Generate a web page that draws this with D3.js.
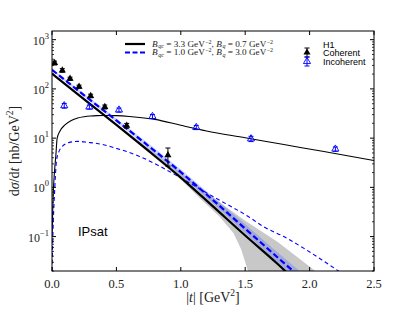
<!DOCTYPE html>
<html><head><meta charset="utf-8">
<script src="https://cdn.jsdelivr.net/npm/d3@7"></script>
<style>body{margin:0;background:#fff}svg{display:block}</style>
</head><body>
<svg id="c" width="415" height="312"></svg>
<script>
// ---- data ----
const xTicks = [0.0, 0.5, 1.0, 1.5, 2.0, 2.5];
const yTickExp = [-1, 0, 1, 2, 3];

// H1 coherent
const cohT = [0.02, 0.08, 0.14, 0.21, 0.30, 0.41, 0.58, 0.90];
const cohV = [336, 238, 161, 111, 72, 43, 17.9, 4.5];
const cohE = [30, 20, 12, 8, 6, 4, 2, 1.8];
// H1 incoherent
const incT = [0.095, 0.29, 0.52, 0.78, 1.12, 1.545, 2.2];
const incV = [45.6, 42.9, 37.3, 27.6, 16.5, 9.7, 6.0];
const incE = [5, 4, 3.5, 2.5, 1.6, 1.2, 0.6];

// model set 1 (black): coherent
const c1T = [0, 0.25, 0.5, 0.75, 1.0, 1.25, 1.5, 1.75, 1.9];
const c1V = [204, 61.5, 18.6, 5.5, 1.58, 0.41, 0.105, 0.028, 0.012];
// gray band around set 1
const gLowT = [0, 0.5, 0.75, 1.0, 1.16, 1.3, 1.41, 1.47, 1.52, 1.56];
const gLowV = [200, 18.0, 5.1, 1.45, 0.56, 0.257, 0.117, 0.054, 0.0204, 0.012];
const gUpT = [0, 0.5, 0.75, 1.0, 1.25, 1.5, 1.75, 2.05, 2.15];
const gUpV = [207, 19.5, 6.2, 2.0, 0.62, 0.21, 0.079, 0.0195, 0.012];
// model set 2 (blue): coherent + band
const c2T = [0, 0.25, 0.5, 0.75, 1.0, 1.25, 1.5, 1.75, 1.95];
const c2V = [245, 74, 22.9, 6.9, 2.04, 0.55, 0.145, 0.038, 0.0132];
const c2Hi = [256.5, 79.3, 25.1, 7.74, 2.34, 0.646, 0.178, 0.0478, 0.0174];
const c2Lo = [234, 69, 20.9, 6.15, 1.78, 0.468, 0.118, 0.0302, 0.0100];
// incoherent models
const i1T = [0, 0.01, 0.02, 0.03, 0.04, 0.06, 0.1, 0.15, 0.2, 0.25, 0.3, 0.35, 0.4, 0.45, 0.5, 0.6, 0.8, 1.0, 1.2, 1.5, 1.8, 2.1, 2.5];
const i1V = [0.1, 0.8, 2.2, 4.5, 10, 13.7, 18.5, 22.8, 25.6, 27.2, 28.2, 28.7, 28.9, 28.9, 28.6, 27.5, 24.0, 18.2, 14.0, 10.2, 7.4, 5.4, 3.5];
const i2T = [0, 0.01, 0.02, 0.035, 0.05, 0.08, 0.13, 0.2, 0.28, 0.35, 0.5, 0.68, 0.84, 1.0, 1.25, 1.54, 1.64, 1.8, 1.95, 2.1, 2.25];
const i2V = [0.02, 0.2, 0.8, 3.5, 5, 6.8, 8.1, 8.6, 8.2, 7.8, 6.2, 4.25, 2.66, 1.55, 0.65, 0.24, 0.16, 0.1, 0.059, 0.033, 0.018];

// ---- layout ----
const L = 52, R = 374, T = 31, B = 271;
const x = d3.scaleLinear().domain([0, 2.5]).range([L, R]);
const y = d3.scaleLog().domain([0.02, 1500]).range([B, T]);
const svg = d3.select("#c");
const blue = "#0000ff";
const serif = "'Liberation Serif', 'DejaVu Serif', serif";
const sans = "'Liberation Sans', Arial, sans-serif";

svg.append("clipPath").attr("id", "clip").append("rect")
  .attr("x", L).attr("y", T).attr("width", R - L).attr("height", B - T);
const g = svg.append("g").attr("clip-path", "url(#clip)");

const zip = (t, v) => t.map((d, i) => [d, v[i]]);
const line = d3.line().x(d => x(d[0])).y(d => y(d[1]));

const grayPoly = zip(gUpT, gUpV).concat(zip(gLowT, gLowV).reverse());
g.append("path").attr("d", line(grayPoly) + "Z").attr("fill", "#c8c8c8").attr("stroke", "none");
const bluePoly = zip(c2T, c2Hi).concat(zip(c2T, c2Lo).reverse());
g.append("path").attr("d", line(bluePoly) + "Z").attr("fill", "rgba(70,90,255,0.28)").attr("stroke", "none");

const curve = d3.line().x(d => x(d[0])).y(d => y(d[1])).curve(d3.curveMonotoneX);
g.append("path").attr("d", curve(zip(i1T, i1V))).attr("fill", "none").attr("stroke", "#000").attr("stroke-width", 1.1);
g.append("path").attr("d", curve(zip(i2T, i2V))).attr("fill", "none").attr("stroke", blue).attr("stroke-width", 1.1).attr("stroke-dasharray", "4,3");
g.append("path").attr("d", curve(zip(c1T, c1V))).attr("fill", "none").attr("stroke", "#000").attr("stroke-width", 2.2);
g.append("path").attr("d", curve(zip(c2T, c2V))).attr("fill", "none").attr("stroke", blue).attr("stroke-width", 2.2).attr("stroke-dasharray", "6,3");

const tri = d3.symbol().type(d3.symbolTriangle).size(22);
function errbars(sel, T_, V_, E_, col) {
  T_.forEach((t, i) => {
    const cx = x(t), y1 = y(V_[i] + E_[i]), y2 = y(V_[i] - E_[i]);
    sel.append("line").attr("x1", cx).attr("x2", cx).attr("y1", y1).attr("y2", y2).attr("stroke", col).attr("stroke-width", 1);
    [y1, y2].forEach(yy => sel.append("line").attr("x1", cx - 2.5).attr("x2", cx + 2.5).attr("y1", yy).attr("y2", yy).attr("stroke", col).attr("stroke-width", 1));
  });
}
errbars(g, incT, incV, incE, blue);
incT.forEach((t, i) => g.append("path").attr("d", tri()).attr("transform", `translate(${x(t)},${y(incV[i])})`)
  .attr("fill", "none").attr("stroke", blue).attr("stroke-width", 0.9));
errbars(g, cohT, cohV, cohE, "#000");
cohT.forEach((t, i) => g.append("path").attr("d", tri()).attr("transform", `translate(${x(t)},${y(cohV[i])})`)
  .attr("fill", "#000"));

svg.append("rect").attr("x", L).attr("y", T).attr("width", R - L).attr("height", B - T)
  .attr("fill", "none").attr("stroke", "#000").attr("stroke-width", 1);

const ax = svg.append("g");
xTicks.forEach(v => {
  const px = x(v);
  ax.append("line").attr("x1", px).attr("x2", px).attr("y1", B).attr("y2", B - 4).attr("stroke", "#000");
  ax.append("line").attr("x1", px).attr("x2", px).attr("y1", T).attr("y2", T + 4).attr("stroke", "#000");
  ax.append("text").attr("x", px).attr("y", B + 17).attr("text-anchor", "middle")
    .attr("font-family", serif).attr("font-size", 12.5).attr("fill", "#222").text(d3.format(".1f")(v));
});
yTickExp.forEach(e => {
  const py = y(Math.pow(10, e));
  ax.append("line").attr("x1", L).attr("x2", L + 4).attr("y1", py).attr("y2", py).attr("stroke", "#000");
  ax.append("line").attr("x1", R).attr("x2", R - 4).attr("y1", py).attr("y2", py).attr("stroke", "#000");
  const tx = ax.append("text").attr("x", 49).attr("y", py + 5).attr("text-anchor", "end")
    .attr("font-family", serif).attr("font-size", 12).attr("fill", "#222");
  tx.append("tspan").text("10");
  tx.append("tspan").attr("dy", -6).attr("font-size", 8.5).text(e < 0 ? "\u2212" + (-e) : String(e));
});
for (let e = -2; e <= 3; e++) {
  for (let m = 2; m <= 9; m++) {
    const v = m * Math.pow(10, e);
    if (v < 0.02 || v > 1500) continue;
    const py = y(v);
    ax.append("line").attr("x1", L).attr("x2", L + 2).attr("y1", py).attr("y2", py).attr("stroke", "#000").attr("stroke-width", 0.8);
    ax.append("line").attr("x1", R).attr("x2", R - 2).attr("y1", py).attr("y2", py).attr("stroke", "#000").attr("stroke-width", 0.8);
  }
}

const xl = svg.append("text").attr("x", 213).attr("y", 302).attr("text-anchor", "middle")
  .attr("font-family", serif).attr("font-size", 14).attr("fill", "#222");
xl.append("tspan").text("|");
xl.append("tspan").attr("font-style", "italic").text("t");
xl.append("tspan").text("|  [GeV");
xl.append("tspan").attr("dy", -6).attr("font-size", 9.5).text("2");
xl.append("tspan").attr("dy", 6).text("]");

const yl = svg.append("text").attr("transform", "translate(19,151) rotate(-90)").attr("text-anchor", "middle")
  .attr("font-family", serif).attr("font-size", 14).attr("fill", "#222");
yl.append("tspan").text("d");
yl.append("tspan").attr("font-style", "italic").text("σ");
yl.append("tspan").text("/d");
yl.append("tspan").attr("font-style", "italic").text("t");
yl.append("tspan").text(" [nb/GeV");
yl.append("tspan").attr("dy", -6).attr("font-size", 9.5).text("2");
yl.append("tspan").attr("dy", 6).text("]");

svg.append("text").attr("x", 78).attr("y", 236).attr("font-family", sans).attr("font-size", 13).text("IPsat");

const legRows = [
  {col: "#000", dash: null, a: "3.3", b: "0.7", yy: 44},
  {col: blue, dash: "5,2.5", a: "1.0", b: "3.0", yy: 52.5}
];
legRows.forEach(r => {
  const l = svg.append("line").attr("x1", 125).attr("x2", 145).attr("y1", r.yy).attr("y2", r.yy)
    .attr("stroke", r.col).attr("stroke-width", 2.2);
  if (r.dash) l.attr("stroke-dasharray", r.dash);
  const t = svg.append("text").attr("x", 152).attr("y", r.yy + 2.8).attr("font-family", serif).attr("font-size", 9.2).attr("fill", "#222");
  t.append("tspan").attr("font-style", "italic").text("B");
  t.append("tspan").attr("dx", 0.6).attr("dy", 1.5).attr("font-size", 6).attr("font-style", "italic").text("qc");
  t.append("tspan").attr("dy", -1.5).text(" = " + r.a + " GeV");
  t.append("tspan").attr("dx", 0.4).attr("dy", -3).attr("font-size", 6).text("\u22122");
  t.append("tspan").attr("dy", 3).text(", ");
  t.append("tspan").attr("font-style", "italic").text("B");
  t.append("tspan").attr("dx", 0.6).attr("dy", 1.5).attr("font-size", 6).attr("font-style", "italic").text("q");
  t.append("tspan").attr("dy", -1.5).text(" = " + r.b + " GeV");
  t.append("tspan").attr("dx", 0.4).attr("dy", -3).attr("font-size", 6).text("\u22122");
});

svg.append("text").attr("x", 323).attr("y", 47.5).attr("font-family", sans).attr("font-size", 9).text("H1");
svg.append("text").attr("x", 323).attr("y", 56).attr("font-family", sans).attr("font-size", 9).text("Coherent");
svg.append("text").attr("x", 323).attr("y", 65).attr("font-family", sans).attr("font-size", 9).text("Incoherent");
const lg = svg.append("g");
function legMark(cy, col, filled) {
  lg.append("line").attr("x1", 307).attr("x2", 307).attr("y1", cy - 4.5).attr("y2", cy + 4.5).attr("stroke", col);
  [cy - 4.5, cy + 4.5].forEach(yy => lg.append("line").attr("x1", 304.5).attr("x2", 309.5).attr("y1", yy).attr("y2", yy).attr("stroke", col));
  lg.append("path").attr("d", tri()).attr("transform", `translate(307,${cy})`)
    .attr("fill", filled ? col : "none").attr("stroke", col).attr("stroke-width", filled ? 0 : 0.9);
}
legMark(52.5, "#000", true);
legMark(61.5, blue, false);
</script>
</body></html>
